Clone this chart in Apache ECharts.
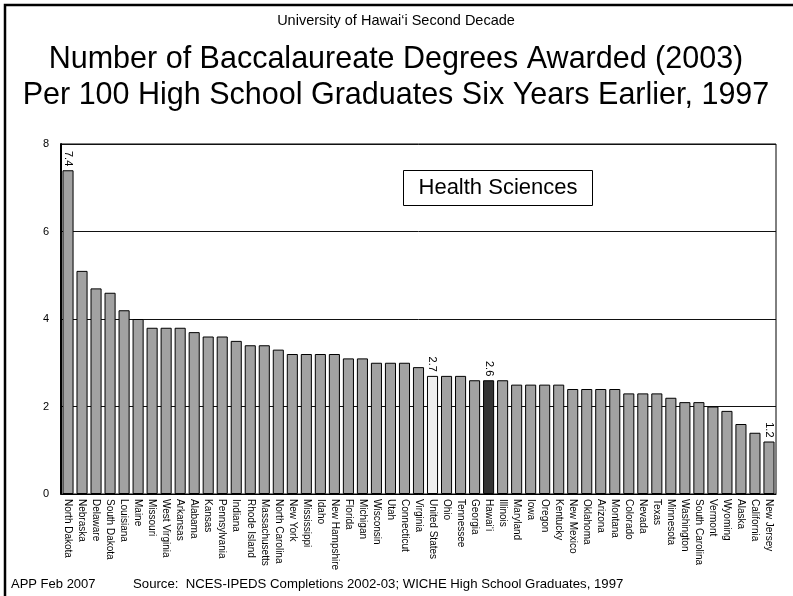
<!DOCTYPE html>
<html>
<head>
<meta charset="utf-8">
<script src="https://cdn.jsdelivr.net/npm/echarts@6/dist/echarts.min.js"></script>
<style>
html,body{margin:0;padding:0;background:#fff;}
#c{width:793px;height:596px;}
</style>
</head>
<body>
<div id="c"></div>
<script>
const states = ["North Dakota","Nebraska","Delaware","South Dakota","Louisiana","Maine","Missouri","West Virginia","Arkansas","Alabama","Kansas","Pennsylvania","Indiana","Rhode Island","Massachusetts","North Carolina","New York","Mississippi","Idaho","New Hampshire","Florida","Michigan","Wisconsin","Utah","Connecticut","Virginia","United States","Ohio","Tennessee","Georgia","Hawai‘i","Illinois","Maryland","Iowa","Oregon","Kentucky","New Mexico","Oklahoma","Arizona","Montana","Colorado","Nevada","Texas","Minnesota","Washington","South Carolina","Vermont","Wyoming","Alaska","California","New Jersey"];
const values = [7.4,5.1,4.7,4.6,4.2,4.0,3.8,3.8,3.8,3.7,3.6,3.6,3.5,3.4,3.4,3.3,3.2,3.2,3.2,3.2,3.1,3.1,3.0,3.0,3.0,2.9,2.7,2.7,2.7,2.6,2.6,2.6,2.5,2.5,2.5,2.5,2.4,2.4,2.4,2.4,2.3,2.3,2.3,2.2,2.1,2.1,2.0,1.9,1.6,1.4,1.2];
const yTicks = [0,2,4,6,8];
const labeledStates = ["North Dakota","United States","Hawai‘i","New Jersey"];
const nationName = "United States";
const homeName = "Hawai‘i";

const chart = echarts.init(document.getElementById('c'), null, {renderer:'canvas'});
const FONT = 'Liberation Sans, Arial, sans-serif';

const seriesData = states.map((s,i)=>{
  let color = '#a2a2a2';
  if (s === nationName) color = '#eeeeee';
  if (s === homeName) color = '#333333';
  return {
    value: values[i],
    itemStyle: {color: color},
    label: {show: labeledStates.indexOf(s) >= 0}
  };
});

chart.setOption({
  animation: false,
  backgroundColor: '#fff',
  grid: {left: 61, right: 17, top: 144, bottom: 102, show: true, borderColor: '#000', borderWidth: 1},
  xAxis: {
    type: 'category',
    data: states,
    axisLine: {show: true, lineStyle: {color: '#000', width: 1}},
    axisTick: {show: false},
    axisLabel: {rotate: -90, interval: 0, fontSize: 10, margin: 5, color: '#000', fontFamily: FONT}
  },
  yAxis: {
    type: 'value',
    min: yTicks[0], max: yTicks[yTicks.length-1], interval: 2,
    axisLine: {show: true, lineStyle: {color: '#000', width: 2}},
    axisTick: {show: false},
    axisLabel: {fontSize: 11, color: '#000', margin: 12, fontFamily: FONT},
    splitLine: {show: true, lineStyle: {color: '#111', width: 1}}
  },
  series: [{
    type: 'bar',
    data: seriesData,
    barCategoryGap: '21%',
    itemStyle: {borderColor: '#000', borderWidth: 1},
    label: {
      position: 'top', distance: 4, rotate: -90, align: 'right', verticalAlign: 'middle',
      fontSize: 11, color: '#000', fontFamily: FONT,
      formatter: p => p.value.toFixed(1)
    }
  }],
  graphic: [
    {type: 'polyline', shape: {points: [[5, 596], [5, 5], [793, 5]]}, style: {stroke: '#000', lineWidth: 2.5, fill: null}},
    {type: 'text', x: 396, y: 21, style: {text: 'University of Hawai‘i Second Decade', fontSize: 14.5, fontFamily: FONT, fill: '#000', align: 'center', verticalAlign: 'middle'}},
    {type: 'text', x: 396, y: 60, style: {text: 'Number of Baccalaureate Degrees Awarded (2003)', fontSize: 30.5, fontFamily: FONT, fill: '#000', align: 'center', verticalAlign: 'middle'}},
    {type: 'text', x: 396, y: 96, style: {text: 'Per 100 High School Graduates Six Years Earlier, 1997', fontSize: 30.5, fontFamily: FONT, fill: '#000', align: 'center', verticalAlign: 'middle'}},
    {type: 'rect', shape: {x: 403.5, y: 170.5, width: 189, height: 35}, style: {fill: '#fff', stroke: '#000', lineWidth: 1}, z: 100},
    {type: 'text', x: 498, y: 188, z: 101, style: {text: 'Health Sciences', fontSize: 22, fontFamily: FONT, fill: '#000', align: 'center', verticalAlign: 'middle'}},
    {type: 'text', x: 11, y: 584, style: {text: 'APP Feb 2007', fontSize: 13, fontFamily: FONT, fill: '#000', align: 'left', verticalAlign: 'middle'}},
    {type: 'text', x: 133, y: 584, style: {text: 'Source:  NCES-IPEDS Completions 2002-03; WICHE High School Graduates, 1997', fontSize: 13.2, fontFamily: FONT, fill: '#000', align: 'left', verticalAlign: 'middle'}}
  ]
});
</script>
</body>
</html>
